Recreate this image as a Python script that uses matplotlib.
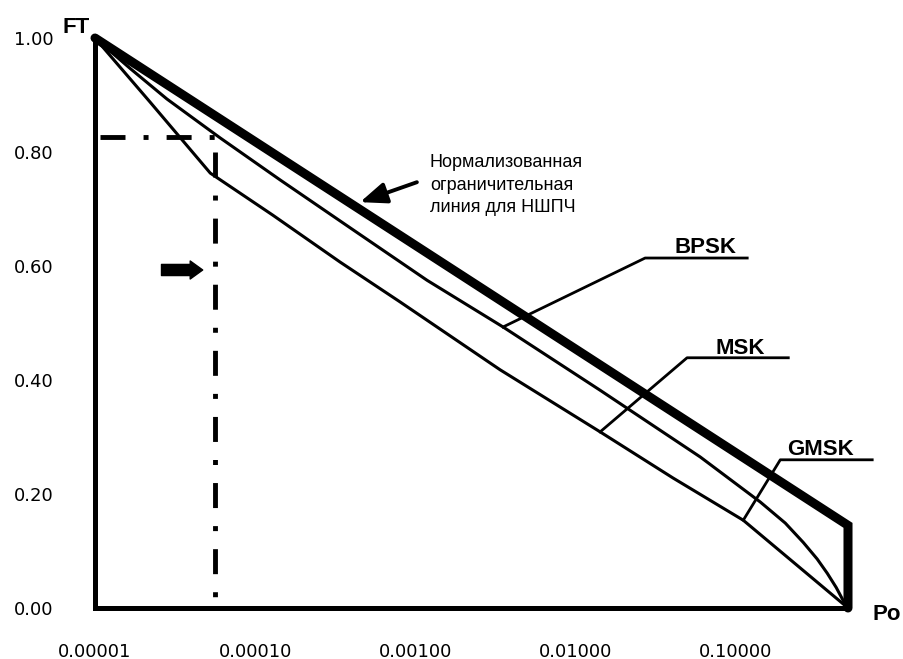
import matplotlib

matplotlib.use("Agg")
import matplotlib.pyplot as plt

plt.rcParams["font.family"] = ["DejaVu Sans"]
plt.rcParams["lines.scale_dashes"] = False

# Нормализованная ограничительная линия (толстая)
bound_po = [1e-5, 0.5, 0.5]
bound_ft = [1.0, 0.145, 0.0]

# Верхняя тонкая кривая (BPSK)
bpsk_po = [1e-5, 1.65e-5, 2.81e-5, 6.02e-5, 1.43e-4, 3.91e-4, 1.18e-3, 3.52e-3,
           0.0142, 0.0598, 0.1417, 0.203, 0.263, 0.321, 0.371, 0.422, 0.473, 0.5]
bpsk_ft = [1.0, 0.947, 0.893, 0.825, 0.751, 0.667, 0.575, 0.493,
           0.382, 0.265, 0.186, 0.149, 0.115, 0.086, 0.061, 0.036, 0.010, 0.0]

# Нижняя тонкая кривая (MSK / GMSK)
gmsk_po = [1e-5, 2.2e-5, 5.24e-5, 1.29e-4, 3.38e-4, 8.01e-4, 3.37e-3, 0.0142,
           0.0405, 0.111, 0.5]
gmsk_ft = [1.0, 0.888, 0.763, 0.689, 0.607, 0.537, 0.418, 0.309,
           0.228, 0.154, 0.0]

# Штрихпунктирные линии отсчёта
ref_po = 5.62e-5
ref_ft = 0.826

xticks = [1e-5, 1e-4, 1e-3, 1e-2, 1e-1]
xtick_labels = ["0.00001", "0.00010", "0.00100", "0.01000", "0.10000"]
yticks = [0.0, 0.2, 0.4, 0.6, 0.8, 1.0]
ytick_labels = ["0.00", "0.20", "0.40", "0.60", "0.80", "1.00"]

fig = plt.figure(figsize=(9.04, 6.59), dpi=100)
ax = fig.add_axes([95 / 904, 51 / 659, 753 / 904, 570 / 659])
ax.set_xscale("log")
ax.set_xlim(1e-5, 0.5)
ax.set_ylim(0, 1.0)

ax.plot(bound_po, bound_ft, color="k", lw=6.5, solid_capstyle="round",
        solid_joinstyle="miter", clip_on=False, zorder=4)
ax.plot(bpsk_po, bpsk_ft, color="k", lw=2.2, clip_on=False, zorder=3)
ax.plot(gmsk_po, gmsk_ft, color="k", lw=2.2, clip_on=False, zorder=3)

dashdot = (0, (18, 13, 3.6, 13))
ax.plot([ref_po, ref_po], [0.80, 0.014], color="k", lw=3.5, linestyle=dashdot,
        dash_capstyle="butt", zorder=2)
ax.plot([1.07e-5, ref_po], [ref_ft, ref_ft], color="k", lw=3.5, linestyle=dashdot,
        dash_capstyle="butt", zorder=2)

# стрелка к штрихпунктирной линии
ax.annotate("", xy=(4.7e-5, 0.593), xytext=(2.6e-5, 0.593),
            arrowprops=dict(arrowstyle="simple,head_length=0.45,head_width=0.65,tail_width=0.4",
                            color="k", mutation_scale=20, shrinkA=0, shrinkB=0))

# подпись ограничительной линии
ax.annotate("", xy=(4.51e-4, 0.712), xytext=(1.02e-3, 0.747),
            arrowprops=dict(arrowstyle="-|>,head_length=0.8,head_width=0.32", color="k",
                            lw=2.8, mutation_scale=20, shrinkA=0, shrinkB=0))
ax.text(1.23e-3, 0.797, "Нормализованная\nограничительная\nлиния для НШПЧ",
        family="Liberation Sans", fontsize=13, va="top", ha="left", linespacing=1.45)

# выноски с названиями модуляций
leaders = [
    ("BPSK", [(3.52e-3, 0.493), (0.0271, 0.614), (0.1175, 0.614)], 0.0643, 0.623),
    ("MSK", [(0.0142, 0.309), (0.0495, 0.439), (0.212, 0.439)], 0.106, 0.446),
    ("GMSK", [(0.111, 0.154), (0.189, 0.260), (0.708, 0.260)], 0.336, 0.268),
]
for name, pts, tx, ty in leaders:
    ax.plot([p[0] for p in pts], [p[1] for p in pts], color="k", lw=2.0,
            clip_on=False, zorder=5)
    ax.text(tx, ty, name, family="Liberation Sans", fontweight="bold", fontsize=16,
            ha="center", va="baseline")

ax.text(-0.0425, 1.009, "FT", transform=ax.transAxes, family="Liberation Sans",
        fontweight="bold", fontsize=16, ha="left", va="baseline")
ax.text(1.033, -0.012, "Po", transform=ax.transAxes, family="Liberation Sans",
        fontweight="bold", fontsize=16, ha="left", va="center")

ax.set_xticks(xticks)
ax.set_xticklabels(xtick_labels)
ax.set_yticks(yticks)
ax.set_yticklabels(ytick_labels)
ax.minorticks_off()
ax.tick_params(axis="x", length=0, pad=25, labelsize=13)
ax.tick_params(axis="y", length=0, pad=30, labelsize=13)

for side in ("top", "right"):
    ax.spines[side].set_visible(False)
for side in ("left", "bottom"):
    ax.spines[side].set_linewidth(3.6)

fig.savefig("out.png", dpi=100)
